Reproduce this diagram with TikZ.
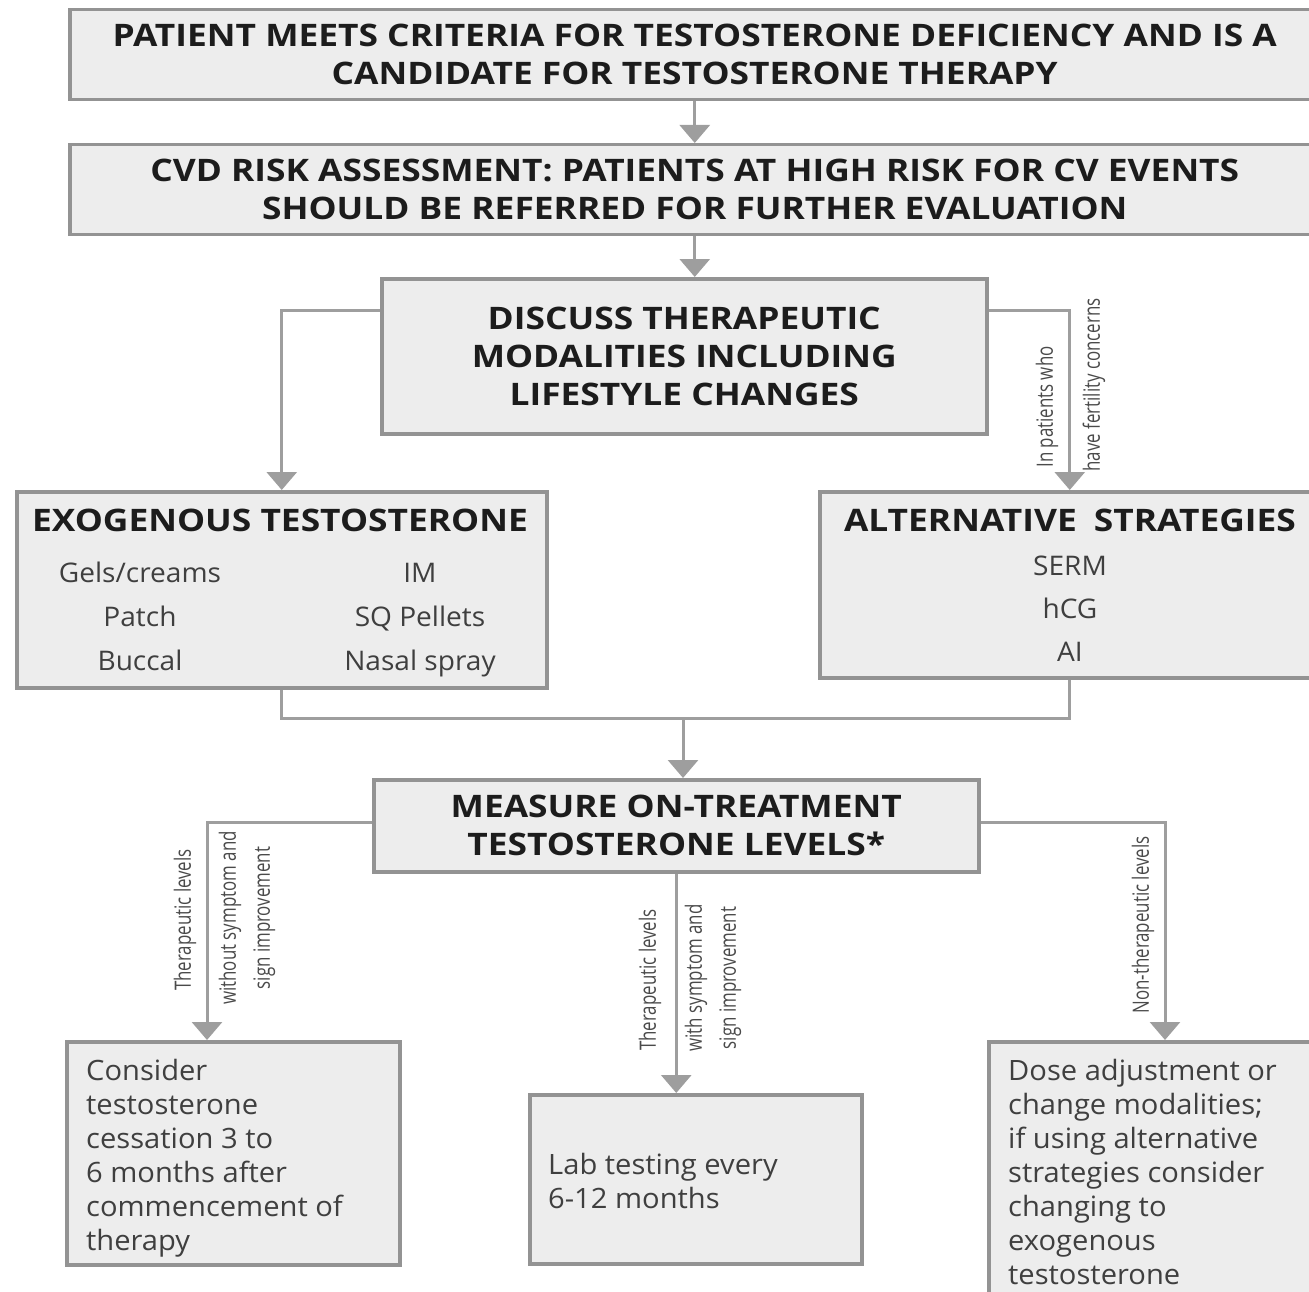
\documentclass[tikz,border=0pt]{standalone}
\usepackage{fontspec}
\setmainfont{Open Sans}
\newfontfamily\condfont[FakeStretch=0.75]{Open Sans}
\newfontfamily\headfont[FakeStretch=1.14]{Open Sans}
\newfontfamily\bodyfont[FakeStretch=1.04]{Open Sans}
\usetikzlibrary{arrows.meta,calc}
\definecolor{boxfill}{HTML}{EDEDED}
\definecolor{boxline}{HTML}{939393}
\definecolor{conncol}{HTML}{9E9E9E}
\definecolor{headtxt}{HTML}{1C1C1C}
\definecolor{bodytxt}{HTML}{3F3F3F}
\definecolor{lbltxt}{HTML}{4A4A4A}
\begin{document}
\begin{tikzpicture}[x={(1pt,0pt)},y={(0pt,-1pt)},
  box/.style={draw=boxline, fill=boxfill, line width=3.5pt, inner sep=0pt, anchor=north west},
  head/.style={font=\headfont\fontsize{31}{38}\selectfont\bfseries, text=headtxt, align=center},
  item/.style={font=\bodyfont\fontsize{27}{34}\selectfont, text=bodytxt, anchor=base, inner sep=0pt},
  body/.style={font=\bodyfont\fontsize{28}{34}\selectfont, text=bodytxt, anchor=base west, inner sep=0pt},
  conn/.style={draw=conncol, line width=3pt},
  arr/.style={conn, -{Triangle[width=30pt,length=18pt]}},
  lbl/.style={rotate=90, font=\condfont\fontsize{22.5}{34}\selectfont, text=lbltxt, align=center, inner sep=0pt}
]
\useasboundingbox (0,0) rectangle (1309,1292);
\clip (0,0) rectangle (1309,1292);

% boxes
\node[box, minimum width=1250pt, minimum height=90pt, head] (top) at (68,8)
  {PATIENT MEETS CRITERIA FOR TESTOSTERONE DEFICIENCY AND IS A\\CANDIDATE FOR TESTOSTERONE THERAPY};
\node[box, minimum width=1250pt, minimum height=90pt, head] (cvd) at (68,143)
  {CVD RISK ASSESSMENT: PATIENTS AT HIGH RISK FOR CV EVENTS\\SHOULD BE REFERRED FOR FURTHER EVALUATION};
\node[box, minimum width=605pt, minimum height=155pt, head] (disc) at (380,277)
  {DISCUSS THERAPEUTIC\\MODALITIES INCLUDING\\LIFESTYLE CHANGES};
\node[box, minimum width=530pt, minimum height=196pt] (exo) at (15,490) {};
\node[box, minimum width=500pt, minimum height=186pt] (alt) at (818,490) {};
\node[box, minimum width=605pt, minimum height=92pt, head] (meas) at (372,778)
  {MEASURE ON-TREATMENT\\TESTOSTERONE LEVELS*};
\node[box, minimum width=333pt, minimum height=223pt] (b1) at (65,1040) {};
\node[box, minimum width=332pt, minimum height=169pt] (b2) at (528,1093) {};
\node[box, minimum width=340pt, minimum height=280pt] (b3) at (987,1040) {};

% box contents
\node[head, anchor=base, inner sep=0pt] (exoT) at (280,531) {EXOGENOUS TESTOSTERONE};
\node[item] (ex1) at (140,582) {Gels/creams};
\node[item] (ex2) at (140,626) {Patch};
\node[item] (ex3) at (140,670) {Buccal};
\node[item] (ex4) at (420,582) {IM};
\node[item] (ex5) at (420,626) {SQ Pellets};
\node[item] (ex6) at (420,670) {Nasal spray};
\node[head, anchor=base, inner sep=0pt] (altT) at (1070,531) {ALTERNATIVE\hspace{0.55em}STRATEGIES};
\node[item] (al1) at (1070,575) {SERM};
\node[item] (al2) at (1070,618) {hCG};
\node[item] (al3) at (1070,661) {AI};

\node[body] (t1) at (86,1080) {\parbox[t]{300pt}{\raggedright Consider\\testosterone\\cessation 3 to\\6 months after\\commencement of\\therapy}};
\node[body] (t2) at (548,1174) {\parbox[t]{300pt}{\raggedright Lab testing every\\6-12 months}};
\node[body] (t3) at (1008,1080) {\parbox[t]{300pt}{\raggedright Dose adjustment or\\change modalities;\\if using alternative\\strategies consider\\changing to\\exogenous\\testosterone}};

% connectors
\draw[arr] (top.south) -- (cvd.north);
\draw[arr] (cvd.south) -- (cvd.south |- disc.north);
\draw[arr] ([yshift=-33pt]disc.north west) -| (exo.north);
\draw[arr] ([yshift=-33pt]disc.north east) -| (alt.north);
\coordinate (merge) at (683,718);
\draw[conn] (exo.south) |- (merge) -| (alt.south);
\draw[arr] (merge) -- (merge |- meas.north);
\draw[arr] ([yshift=-44pt]meas.north west) -| ([xshift=142pt]b1.north west);
\draw[arr] (meas.south) -- (meas.south |- b2.north);
\draw[arr] ([yshift=-44pt]meas.north east) -| ([xshift=178pt]b3.north west);

% labels
\node[lbl] (l1) at (1047,407) {In patients who};
\node[lbl] (l2) at (1094,385) {have fertility concerns};
\node[lbl] (l3) at (185,920) {Therapeutic levels};
\node[lbl] (l4) at (247,918) {without symptom and\\sign improvement};
\node[lbl] (l5) at (650,980) {Therapeutic levels};
\node[lbl] (l6) at (713,978) {with symptom and\\sign improvement};
\node[lbl] (l7) at (1143,925) {Non-therapeutic levels};
\end{tikzpicture}
\end{document}
